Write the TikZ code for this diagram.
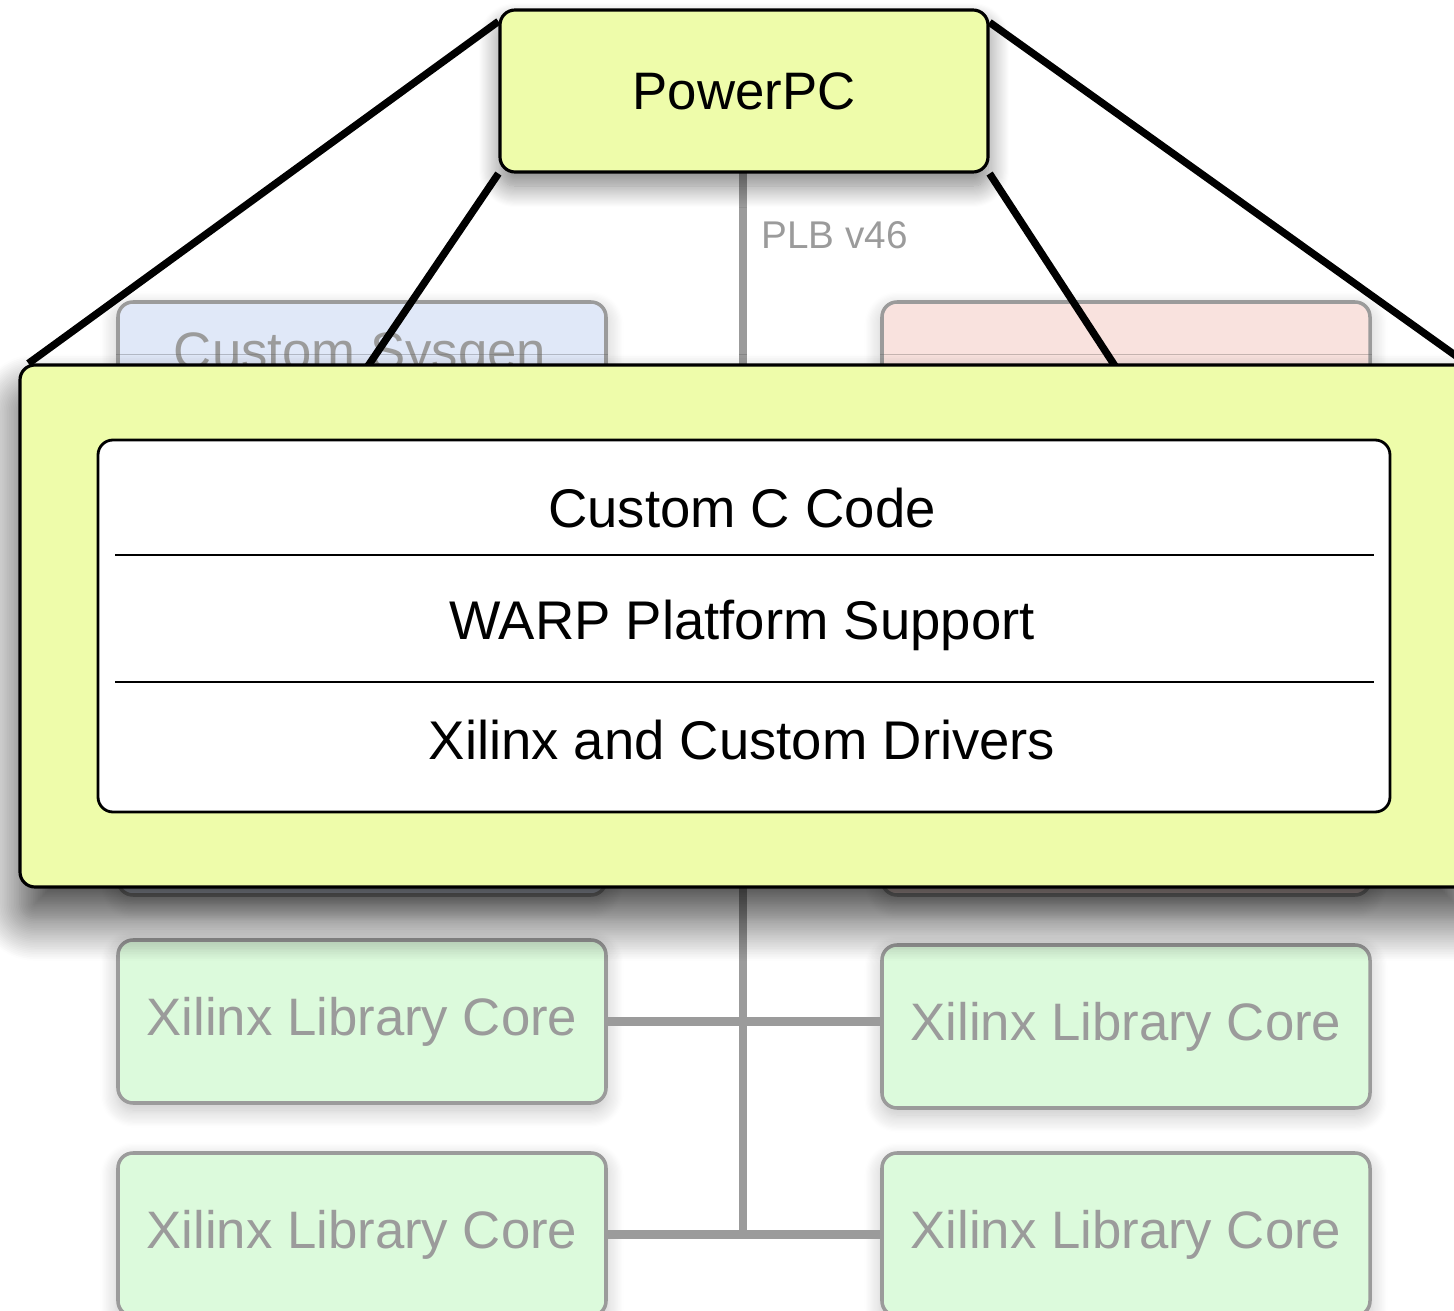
\documentclass[tikz,border=0pt]{standalone}
\usepackage{fontspec}
\setmainfont{Liberation Sans}
\usetikzlibrary{shadows.blur}

\definecolor{cpuyellow}{RGB}{238,252,170}
\definecolor{sysblue}{RGB}{224,232,248}
\definecolor{syspink}{RGB}{249,226,222}
\definecolor{coregreen}{RGB}{220,250,220}
\definecolor{busgray}{RGB}{155,155,155}

\pgfdeclarelayer{front}
\pgfsetlayers{main,front}

\tikzset{
	bigfont/.style={font=\fontsize{15pt}{18pt}\selectfont},
	swfont/.style={font=\fontsize{15.5pt}{18pt}\selectfont},
	fadedbox/.style={draw=busgray, line width=1pt, rounded corners=0.15cm, minimum width=4.88cm,
		text=busgray, bigfont, blur shadow={shadow xshift=0pt, shadow yshift=-2pt, shadow blur radius=5pt, shadow blur steps=15, shadow opacity=25}},
	bus/.style={draw=busgray, line width=2.3pt},
	zoomline/.style={line width=2.1pt},
}

\begin{document}
\begin{tikzpicture}
	\useasboundingbox (0,0) rectangle (14.54,-13.11);
	% PLB bus
	\coordinate (busstart) at (7.43,-1.72);
	\coordinate (busend) at (7.43,-12.32);
	\draw [bus] (busstart) -- (busend);
	% placeholder blocks behind the zoom
	\node [fadedbox, fill=sysblue, minimum height=5.93cm] (sysgen) at (3.62,-5.985) {};
	\node [fadedbox, fill=syspink, minimum height=5.93cm] (pinkblk) at (11.26,-5.985) {};
	\node [text=busgray, bigfont, anchor=base] (sysgentext) at (3.60,-3.70) {Custom Sysgen};
	% library cores
	\node [fadedbox, fill=coregreen, minimum height=1.63cm] (coreA) at (3.62,-10.215) {Xilinx Library Core};
	\node [fadedbox, fill=coregreen, minimum height=1.63cm] (coreB) at (11.26,-10.265) {Xilinx Library Core};
	\node [fadedbox, fill=coregreen, minimum height=1.63cm] (coreC) at (3.62,-12.345) {Xilinx Library Core};
	\node [fadedbox, fill=coregreen, minimum height=1.63cm] (coreD) at (11.26,-12.345) {Xilinx Library Core};
	\draw [bus] (coreA.east) -- (coreA.east -| coreB.west);
	\draw [bus] (coreC.east) -- (coreD.west);
	\node [text=busgray, font=\fontsize{11pt}{13pt}\selectfont, anchor=west] (plb) at (7.49,-2.35) {PLB v46};
	\begin{pgfonlayer}{front}
		% processor
		\node [draw, line width=0.9pt, fill=cpuyellow, rounded corners=0.15cm, minimum width=4.88cm, minimum height=1.62cm,
			bigfont, blur shadow={shadow xshift=0pt, shadow yshift=-4pt, shadow blur radius=6pt, shadow blur steps=20, shadow opacity=50}] (ppc) at (7.44,-0.91) {PowerPC};
		% big zoomed view
		\node [draw, line width=0.9pt, fill=cpuyellow, rounded corners=0.15cm, minimum width=14.5cm, minimum height=5.22cm,
			blur shadow={shadow xshift=0pt, shadow yshift=-9pt, shadow blur radius=12pt, shadow blur steps=25, shadow opacity=75}] (zoom) at (7.45,-6.26) {};
		\node [draw, line width=0.8pt, fill=white, rounded corners=0.15cm, minimum width=12.92cm, minimum height=3.72cm] (sw) at (7.44,-6.26) {};
		\node [swfont] (ccode) at (7.42,-5.08) {Custom C Code};
		\node [swfont] (warp) at (7.42,-6.25) {WARP Platform Support};
		\node [swfont] (drivers) at (7.42,-7.40) {Xilinx and Custom Drivers};
		\coordinate (sepAl) at (1.15,-5.55);
		\coordinate (sepAr) at (13.74,-5.55);
		\coordinate (sepBl) at (1.15,-6.82);
		\coordinate (sepBr) at (13.74,-6.82);
		\draw [line width=0.7pt] (sepAl) -- (sepAr);
		\draw [line width=0.7pt] (sepBl) -- (sepBr);
	\end{pgfonlayer}
	% zoom lines
	\coordinate (cutL) at (3.68,-3.66);
	\coordinate (cutR) at (11.15,-3.66);
	\draw [zoomline] ([yshift=-0.13cm]ppc.north west) -- ([xshift=0.1cm]zoom.north west);
	\draw [zoomline] ([yshift=-0.14cm]ppc.north east) -- ([xshift=-0.05cm]zoom.north east);
	\draw [zoomline] (ppc.south west) -- (cutL);
	\draw [zoomline] (ppc.south east) -- (cutR);
\end{tikzpicture}
\end{document}
